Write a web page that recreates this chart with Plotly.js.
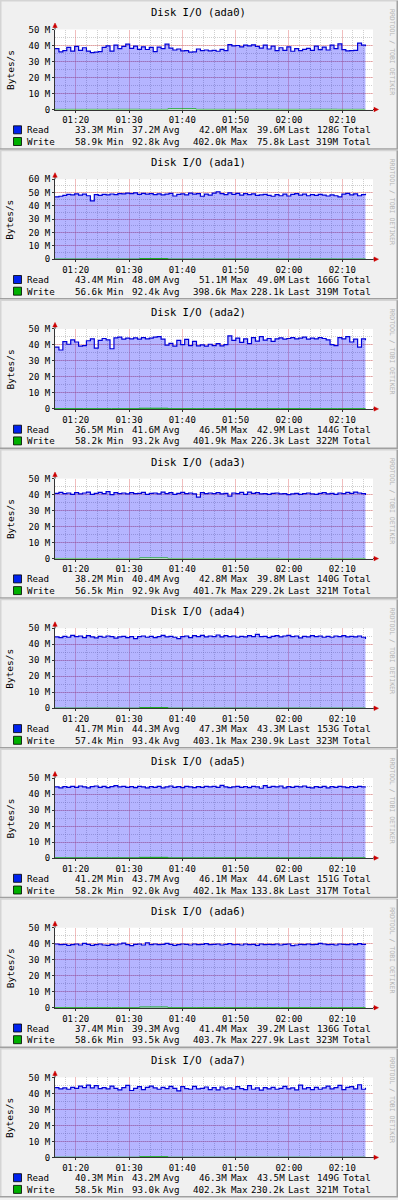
<!DOCTYPE html>
<html><head><meta charset="utf-8">
<script src="https://cdn.plot.ly/plotly-3.0.1.min.js"></script>
<style>html,body{margin:0;padding:0;background:#f0f0f0}#chart{width:398px;height:1200px}</style>
</head><body><div id="chart"></div>
<script>
// ---- data ----
const disks = ["ada0","ada1","ada2","ada3","ada4","ada5","ada6","ada7"];
const yMaxM = [50,60,50,50,50,50,50,50];

const read_ada0 = [38.0,36.0,36.8,38.8,36.5,39.5,37.0,38.6,36.5,35.6,35.8,36.2,38.8,39.8,36.5,40.2,38.0,39.5,40.8,38.2,
 39.6,37.6,39.2,37.5,38.8,36.2,39.0,38.0,40.8,38.4,37.2,37.8,36.6,36.8,35.8,36.0,37.8,36.8,37.2,36.6,
 37.0,36.4,37.6,36.8,40.6,39.8,40.0,39.2,40.2,39.8,40.4,39.4,38.4,40.2,37.8,39.6,36.8,38.6,37.0,39.2,
 36.4,38.0,36.8,37.6,38.2,37.0,39.6,37.4,39.0,37.2,40.2,38.0,41.0,37.4,36.6,36.8,37.0,41.5,40.2,39.6];
const read_ada1 = [46.8,47.2,47.8,48.6,48.2,49.0,48.0,48.8,47.6,43.8,48.4,47.8,48.6,48.2,48.9,48.4,49.2,49.0,49.6,49.2,
 49.8,48.6,49.4,48.8,49.2,48.4,49.0,48.2,48.8,49.4,47.4,48.6,49.0,48.2,49.6,48.8,49.2,47.2,48.8,48.0,
 49.6,50.6,49.2,48.4,49.8,48.6,49.4,48.0,49.2,48.4,49.0,47.8,48.2,48.6,47.8,47.2,48.4,47.6,48.8,47.4,
 48.6,49.2,48.0,48.8,47.6,48.4,47.8,48.6,48.0,47.4,48.2,47.6,46.8,48.8,49.4,48.2,49.0,47.6,48.4,49.0];
const read_ada2 = [38.6,36.8,42.0,40.4,43.2,41.8,39.2,39.6,42.6,43.8,38.0,42.8,44.0,43.2,37.6,44.4,44.8,43.6,44.2,43.8,
 44.4,43.6,44.6,43.8,44.2,44.8,45.2,43.6,39.8,41.0,39.2,42.8,40.2,43.4,39.6,42.2,39.4,40.0,39.2,40.4,
 39.6,40.8,39.4,40.2,45.6,42.8,44.2,41.6,43.8,40.8,44.6,42.4,45.2,43.0,44.0,42.2,43.8,44.4,43.6,44.0,
 44.6,43.8,44.2,44.8,43.6,44.2,43.8,44.6,44.0,43.2,40.2,39.6,44.6,43.8,45.2,41.8,43.6,38.6,43.8,42.9];
const read_ada3 = [40.8,41.4,40.6,41.0,40.2,41.2,40.4,41.0,41.6,40.2,40.8,41.4,40.6,41.8,40.0,41.2,40.6,41.0,40.4,41.2,
 40.6,40.8,41.4,40.2,40.8,41.0,40.4,41.6,40.6,41.2,40.2,40.8,41.4,40.6,41.0,40.4,38.4,41.2,40.6,41.0,
 40.6,41.2,40.4,40.8,39.0,41.0,40.6,41.4,40.2,41.6,40.8,41.2,40.4,40.6,40.2,40.8,41.0,40.4,40.6,40.0,
 40.4,40.8,40.2,40.6,41.0,40.4,40.2,40.8,41.2,40.4,40.8,40.2,41.0,40.6,41.4,40.8,41.6,41.0,40.6,39.8];
const read_ada4 = [44.6,44.2,45.0,44.4,45.6,44.8,45.2,44.2,45.4,44.6,44.0,45.0,44.4,45.2,44.8,43.8,44.6,45.0,44.2,44.8,
 43.6,44.8,45.2,44.4,45.0,44.2,44.8,45.6,44.6,45.0,44.4,43.6,44.8,45.2,44.2,45.4,44.8,45.6,44.6,45.2,
 44.8,45.8,44.6,45.4,44.8,45.2,44.4,45.0,44.6,45.4,44.8,46.2,44.8,45.0,44.2,45.0,45.4,44.6,45.2,45.6,
 44.8,45.2,44.0,45.0,44.6,45.4,44.8,45.2,44.4,45.0,44.4,45.2,44.8,45.4,44.6,45.0,44.6,45.2,44.4,43.3];
const read_ada5 = [44.4,43.8,44.6,44.2,44.8,44.2,45.0,44.4,43.8,44.6,45.0,44.2,44.8,44.0,44.6,45.2,44.4,44.8,44.2,44.6,
 44.0,44.8,44.4,43.8,44.6,44.2,44.8,43.8,44.4,45.0,44.2,44.6,44.0,44.8,44.4,44.0,44.6,44.2,44.8,44.4,
 44.8,44.2,45.4,44.4,44.0,44.4,44.8,44.2,44.6,44.0,44.8,44.4,43.6,45.2,44.2,44.8,44.4,45.0,43.8,44.6,
 44.2,44.8,44.4,45.0,44.2,43.8,44.6,44.2,44.8,43.8,44.6,44.2,44.8,44.4,44.0,44.6,44.2,44.8,44.4,44.6];
const read_ada6 = [39.8,39.4,39.6,39.0,39.4,39.8,39.2,40.2,39.6,39.0,39.4,39.8,39.2,39.0,39.6,39.2,39.8,40.4,39.4,38.8,
 39.6,39.8,39.2,40.6,39.4,39.8,39.4,39.6,40.2,39.6,39.0,39.4,39.8,39.6,39.2,39.8,39.4,39.6,40.0,39.4,
 39.6,39.8,39.2,39.6,40.0,39.4,39.6,39.2,39.8,39.4,39.6,39.0,39.8,39.4,39.6,39.4,39.8,39.2,39.6,39.8,
 38.8,39.2,39.6,39.4,39.8,39.4,39.6,40.2,39.8,39.4,39.6,39.2,39.8,39.6,39.4,39.8,39.4,40.0,39.6,39.2];
const read_ada7 = [43.6,42.8,43.4,42.6,43.8,43.2,44.6,43.6,45.2,43.4,44.8,43.0,43.6,42.8,44.6,43.2,42.2,43.6,45.0,41.8,
 43.2,44.2,42.4,43.8,44.6,43.4,42.6,43.8,43.0,44.4,43.2,41.6,44.2,43.0,42.6,44.4,42.8,43.2,44.0,42.4,
 43.6,42.2,44.0,42.8,43.4,42.6,44.2,43.0,42.4,44.8,42.6,43.4,42.0,43.6,42.8,43.8,42.6,43.2,44.4,42.8,
 43.4,42.2,45.2,42.8,43.6,42.4,43.8,42.6,43.4,44.6,42.8,43.6,45.0,42.4,43.8,44.2,42.8,45.4,42.6,43.5];

const write_ada0 = [0.09,0.08,0.11,0.07,0.40,0.09,0.08,0.10,0.09,0.12,0.08,0.08];
const write_ada1 = [0.09,0.10,0.08,0.40,0.09,0.08,0.11,0.09,0.08,0.10,0.09,0.23];
const write_ada2 = [0.10,0.08,0.09,0.40,0.09,0.08,0.10,0.09,0.11,0.08,0.09,0.23];
const write_ada3 = [0.09,0.08,0.10,0.40,0.09,0.08,0.09,0.11,0.08,0.10,0.09,0.23];
const write_ada4 = [0.09,0.10,0.08,0.40,0.09,0.08,0.10,0.09,0.11,0.08,0.09,0.23];
const write_ada5 = [0.09,0.08,0.10,0.40,0.08,0.09,0.10,0.09,0.08,0.11,0.09,0.13];
const write_ada6 = [0.10,0.09,0.08,0.40,0.09,0.10,0.08,0.09,0.11,0.08,0.09,0.23];
const write_ada7 = [0.09,0.08,0.10,0.40,0.09,0.08,0.10,0.09,0.11,0.08,0.09,0.23];

const readMin   = ["33.3M","43.4M","36.5M","38.2M","41.7M","41.2M","37.4M","40.3M"];
const readAvg   = ["37.2M","48.0M","41.6M","40.4M","44.3M","43.7M","39.3M","43.2M"];
const readMax   = ["42.0M","51.1M","46.5M","42.8M","47.3M","46.1M","41.4M","46.3M"];
const readLast  = ["39.6M","49.0M","42.9M","39.8M","43.3M","44.6M","39.2M","43.5M"];
const readTotal = ["128G","166G","144G","140G","153G","151G","136G","149G"];
const writeMin  = ["58.9k","56.6k","58.2k","56.5k","57.4k","58.2k","58.6k","58.5k"];
const writeAvg  = ["92.8k","92.4k","93.2k","92.9k","93.4k","92.0k","93.5k","93.0k"];
const writeMax  = ["402.0k","398.6k","401.9k","401.7k","403.1k","402.1k","403.7k","402.3k"];
const writeLast = ["75.8k","228.1k","226.3k","229.2k","230.9k","133.8k","227.9k","230.2k"];
const writeTotal= ["319M","319M","322M","321M","323M","317M","323M","321M"];

const readSeries  = [read_ada0,read_ada1,read_ada2,read_ada3,read_ada4,read_ada5,read_ada6,read_ada7];
const writeSeries = [write_ada0,write_ada1,write_ada2,write_ada3,write_ada4,write_ada5,write_ada6,write_ada7];

// ---- time axis ----
const T = (h,m,s)=>Date.UTC(2024,0,1,h,m,s||0);
const axisStart = T(1,16,7), axisEnd = T(2,15,46);
const dataStart = T(1,16,7), dataEnd = T(2,14,21);

// ---- geometry ----
const W=398, H=1200, PANEL=149.7;
const PX = p=>p/W, PY = p=>1-p/H;
const mono = "DejaVu Sans Mono";
const AX='#333333', ARROW='#cc0000';
const MGRID='rgba(225,110,110,0.45)', GRID='rgba(150,150,150,0.45)';

const traces=[], annotations=[], shapes=[];
const layout = {width:W,height:H,margin:{l:0,r:0,t:0,b:0},paper_bgcolor:'#f0f0f0',plot_bgcolor:'#ffffff',
  showlegend:false,font:{family:mono,size:9,color:'#000'}};

function times(n,a,b){const out=[];for(let i=0;i<n;i++)out.push(a+(b-a)*i/(n-1));return out;}

disks.forEach((d,k)=>{
  const off=k*PANEL;
  const bot=109.5+off, top=bot-80;
  const sfx = k===0?'':String(k+1);
  const xa='x'+sfx, ya='y'+sfx;
  const rd=readSeries[k], wr=writeSeries[k];
  traces.push({type:'scatter',mode:'lines',x:times(rd.length,dataStart,dataEnd),y:rd,xaxis:xa,yaxis:ya,
    line:{color:'#0000d8',width:1.2,shape:'hv'},fill:'tozeroy',fillcolor:'rgba(0,0,255,0.29)',hoverinfo:'skip'});
  traces.push({type:'scatter',mode:'lines',x:times(wr.length,dataStart,dataEnd),y:wr,xaxis:xa,yaxis:ya,
    line:{color:'#00b000',width:1,shape:'hv'},hoverinfo:'skip'});
  const ymax=yMaxM[k];
  const tv=[],tt=[];for(let v=0;v<=ymax;v+=10){tv.push(v);tt.push(v===0?'0':v+' M');}
  layout['xaxis'+sfx]={domain:[PX(55),PX(373)],anchor:ya,type:'date',range:[axisStart,axisEnd],
    tick0:T(1,20),dtick:600000,tickformat:'%H:%M',showgrid:true,gridcolor:MGRID,gridwidth:1,
    minor:{dtick:120000,tick0:T(1,20),showgrid:true,gridcolor:GRID,griddash:'1px,1px',ticks:''},
    showline:true,linecolor:AX,linewidth:1,ticks:'outside',ticklen:2,tickcolor:AX,zeroline:false,
    tickfont:{family:mono,size:9,color:'#000'},fixedrange:true};
  layout['yaxis'+sfx]={domain:[PY(bot),PY(top)],anchor:xa,range:[0,ymax],tickmode:'array',tickvals:tv,ticktext:tt,
    showgrid:true,gridcolor:MGRID,gridwidth:1,minor:{dtick:5,showgrid:true,gridcolor:GRID,griddash:'1px,1px',ticks:''},
    showline:true,linecolor:AX,linewidth:1,ticks:'outside',ticklen:2,tickcolor:AX,zeroline:false,
    tickfont:{family:mono,size:9,color:'#000'},fixedrange:true};
  // axis extensions and arrows
  shapes.push({type:'line',xref:'paper',yref:'paper',x0:PX(55),x1:PX(55),y0:PY(top),y1:PY(top-4),line:{color:AX,width:1}});
  shapes.push({type:'line',xref:'paper',yref:'paper',x0:PX(373),x1:PX(376),y0:PY(bot),y1:PY(bot),line:{color:AX,width:1}});
  shapes.push({type:'path',xref:'paper',yref:'paper',fillcolor:ARROW,line:{color:ARROW,width:0.5},
    path:`M ${PX(52.8)},${PY(top-2)} L ${PX(57.2)},${PY(top-2)} L ${PX(55)},${PY(top-6.5)} Z`});
  shapes.push({type:'path',xref:'paper',yref:'paper',fillcolor:ARROW,line:{color:ARROW,width:0.5},
    path:`M ${PX(374)},${PY(bot-2.2)} L ${PX(374)},${PY(bot+2.2)} L ${PX(378.5)},${PY(bot)} Z`});
  // panel frame
  const pt=off+0.75, pb=off+PANEL-0.75;
  shapes.push({type:'line',xref:'paper',yref:'paper',x0:0,x1:1,y0:PY(pt),y1:PY(pt),line:{color:'#d4d4d4',width:1.5}});
  shapes.push({type:'line',xref:'paper',yref:'paper',x0:PX(0.75),x1:PX(0.75),y0:PY(pt),y1:PY(pb),line:{color:'#d4d4d4',width:1.5}});
  shapes.push({type:'line',xref:'paper',yref:'paper',x0:0,x1:1,y0:PY(pb),y1:PY(pb),line:{color:'#a0a0a0',width:1.5}});
  shapes.push({type:'line',xref:'paper',yref:'paper',x0:PX(397.25),x1:PX(397.25),y0:PY(pt),y1:PY(pb),line:{color:'#a0a0a0',width:1.5}});
  // texts
  const A=(text,x,y,opts)=>annotations.push(Object.assign({text,x:PX(x),y:PY(y),xref:'paper',yref:'paper',showarrow:false,
    borderpad:0,font:{family:mono,size:9.2,color:'#000'},xanchor:'left',yanchor:'middle'},opts||{}));
  A('Disk I/O ('+d+')',198.5,12.5+off,{xanchor:'center',font:{family:mono,size:10.5,color:'#000'}});
  A('Bytes/s',10,70+off,{xanchor:'center',textangle:-90,font:{family:mono,size:9.5,color:'#000'}});
  A('RRDTOOL / TOBI OETIKER',392,52+off,{xanchor:'center',textangle:90,font:{family:mono,size:6.5,color:'#b4b4b4'}});
  const rows=[['Read',129.8,'#0022ee',[readMin[k],readAvg[k],readMax[k],readLast[k],readTotal[k]]],
              ['Write',141.5,'#00b000',[writeMin[k],writeAvg[k],writeMax[k],writeLast[k],writeTotal[k]]]];
  const numRight=[103.8,160.8,228.3,285.8,340.3], words=['Min','Avg','Max','Last','Total'], wordLeft=[105.8,162.3,229.5,287.3,342];
  rows.forEach(([lab,ry,col,vals])=>{
    const y=ry+off;
    shapes.push({type:'rect',xref:'paper',yref:'paper',x0:PX(13.5),x1:PX(21.5),y0:PY(y-4),y1:PY(y+4),fillcolor:col,line:{color:'#000',width:0.8}});
    A(lab,25.5,y);
    vals.forEach((v,i)=>{A(v,numRight[i],y,{xanchor:'right'});A(words[i],wordLeft[i],y);});
  });
});
layout.shapes=shapes; layout.annotations=annotations;
Plotly.newPlot('chart',traces,layout,{staticPlot:true,displayModeBar:false});
</script></body></html>
